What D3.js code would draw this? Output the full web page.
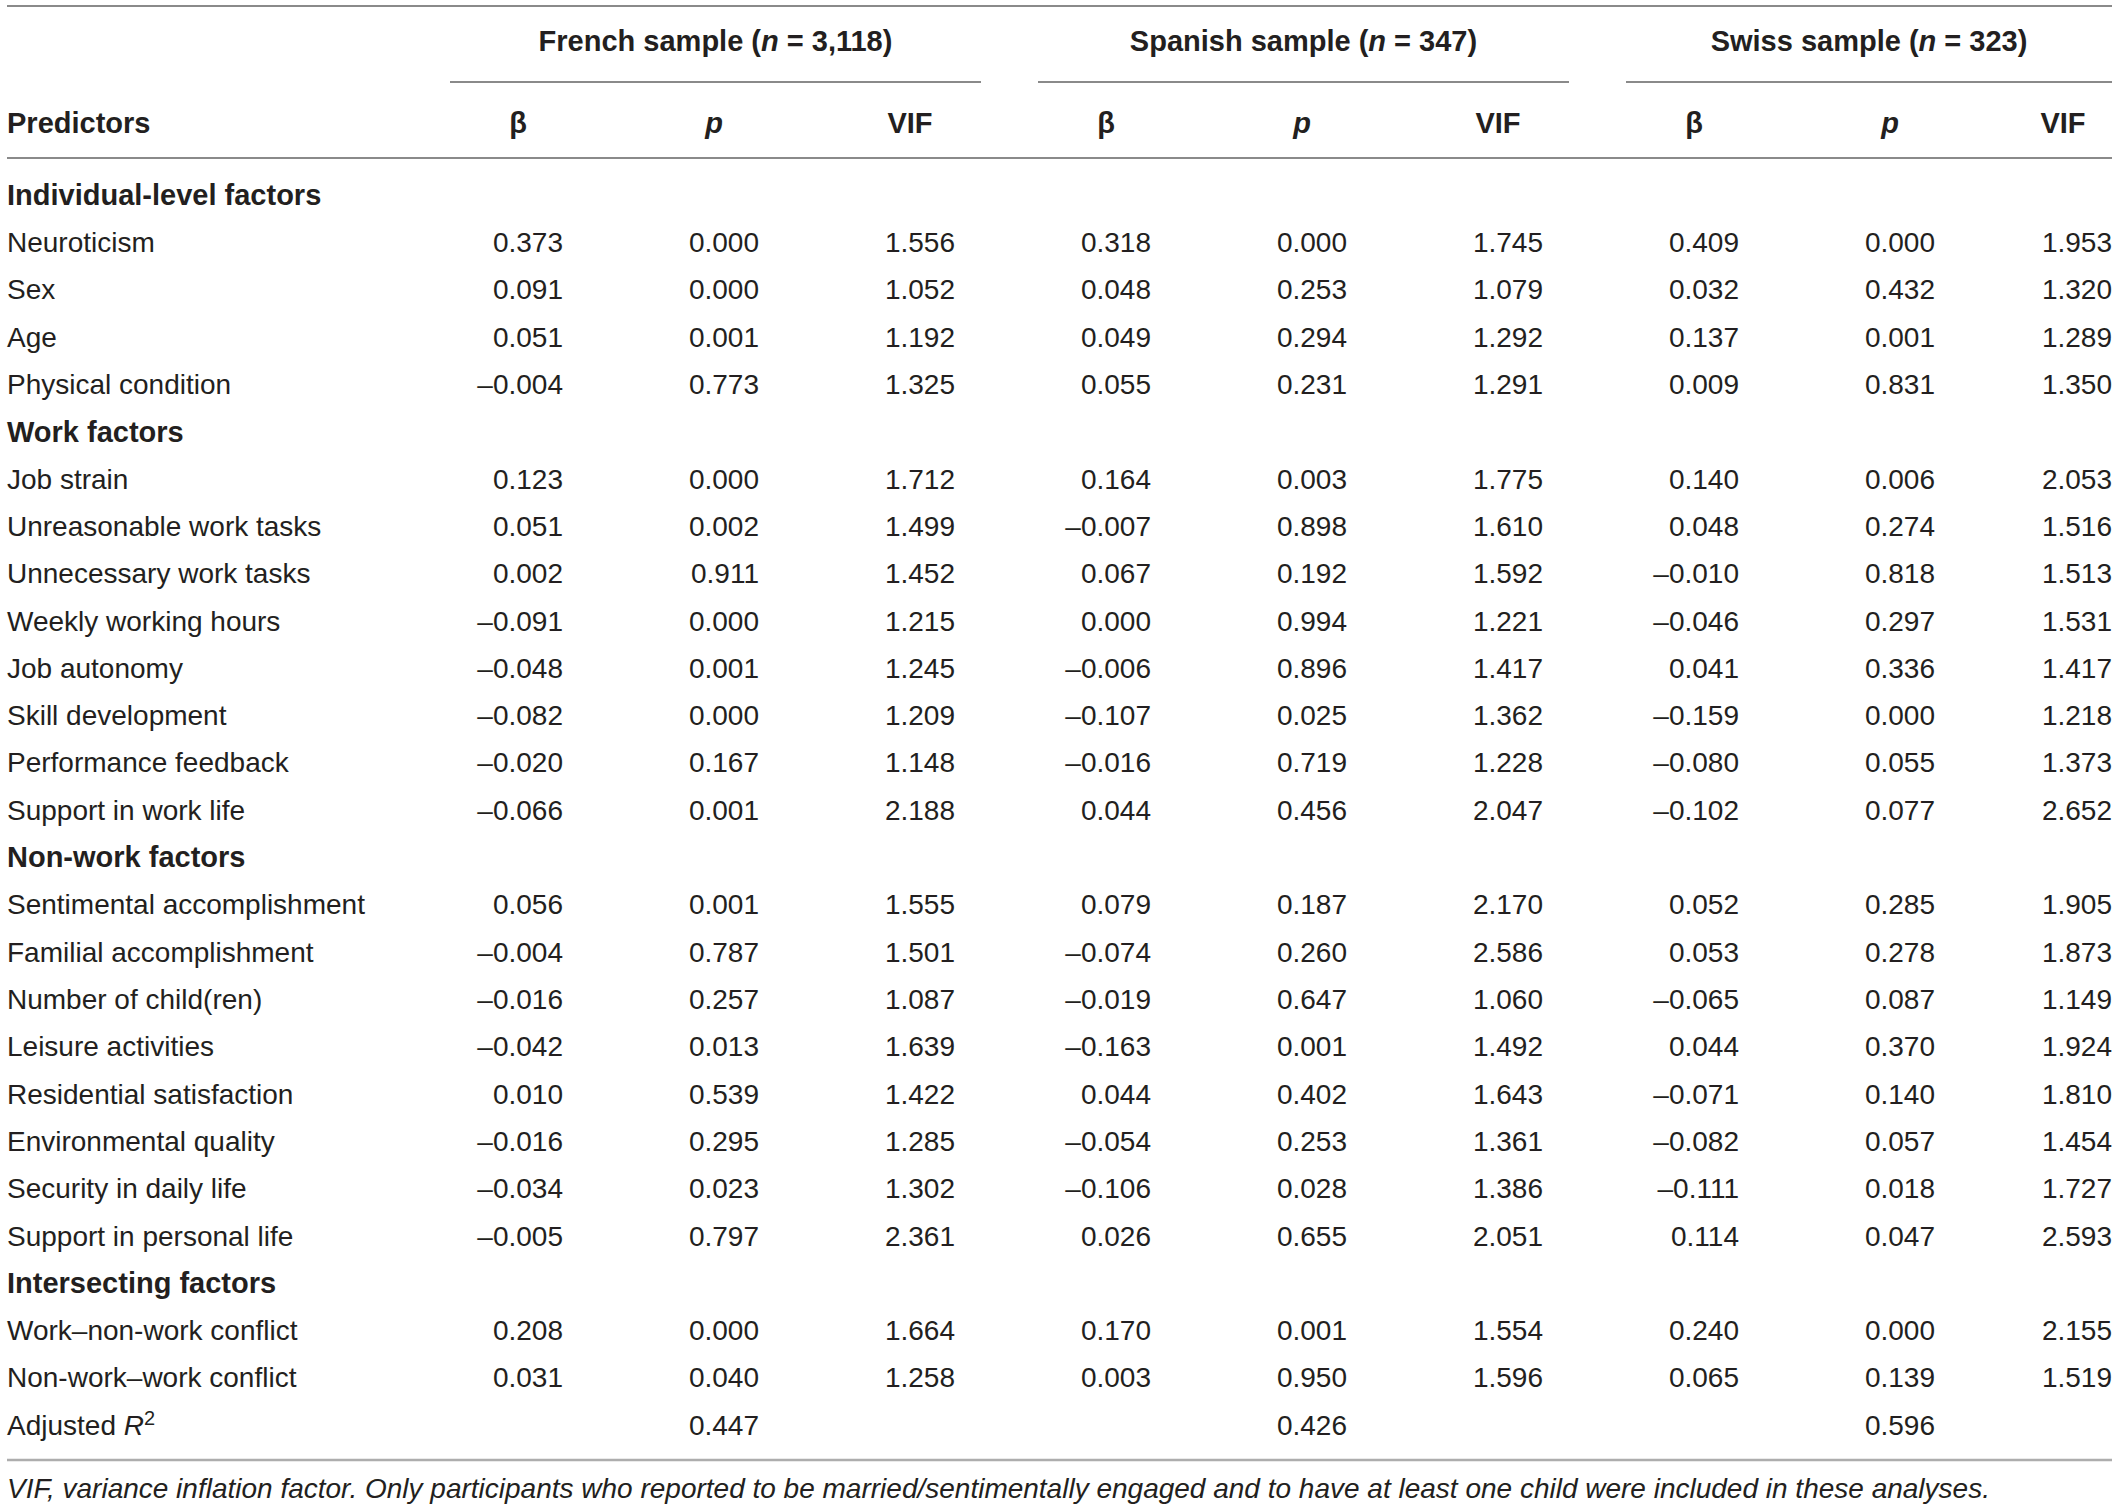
<!DOCTYPE html>
<html>
<head>
<meta charset="utf-8">
<script src="https://cdn.jsdelivr.net/npm/d3@7"></script>
<style>
  html, body { margin: 0; padding: 0; background: #fff; }
  svg text { font-family: "Liberation Sans", Arial, Helvetica, sans-serif; fill: #231f20; }
</style>
</head>
<body>
<div id="chart"></div>
<script>
// rows of the table: label and kind (section header / predictor / fit)
const predictors = [
  "Individual-level factors", "Neuroticism", "Sex", "Age", "Physical condition",
  "Work factors", "Job strain", "Unreasonable work tasks", "Unnecessary work tasks",
  "Weekly working hours", "Job autonomy", "Skill development", "Performance feedback",
  "Support in work life",
  "Non-work factors", "Sentimental accomplishment", "Familial accomplishment",
  "Number of child(ren)", "Leisure activities", "Residential satisfaction",
  "Environmental quality", "Security in daily life", "Support in personal life",
  "Intersecting factors", "Work\u2013non-work conflict", "Non-work\u2013work conflict"
];
const sections = ["Individual-level factors", "Work factors", "Non-work factors", "Intersecting factors"];

const samples = ["French", "Spanish", "Swiss"];
const sampleSizes = ["3,118", "347", "323"];
const statLabels = ["\u03b2", "p", "VIF"];

// values per sample, in order of the predictor rows (section rows skipped)
const frenchBeta = [0.373, 0.091, 0.051, -0.004, 0.123, 0.051, 0.002, -0.091, -0.048, -0.082, -0.020, -0.066,
  0.056, -0.004, -0.016, -0.042, 0.010, -0.016, -0.034, -0.005, 0.208, 0.031];
const frenchP = [0.000, 0.000, 0.001, 0.773, 0.000, 0.002, 0.911, 0.000, 0.001, 0.000, 0.167, 0.001,
  0.001, 0.787, 0.257, 0.013, 0.539, 0.295, 0.023, 0.797, 0.000, 0.040];
const frenchVif = [1.556, 1.052, 1.192, 1.325, 1.712, 1.499, 1.452, 1.215, 1.245, 1.209, 1.148, 2.188,
  1.555, 1.501, 1.087, 1.639, 1.422, 1.285, 1.302, 2.361, 1.664, 1.258];

const spanishBeta = [0.318, 0.048, 0.049, 0.055, 0.164, -0.007, 0.067, 0.000, -0.006, -0.107, -0.016, 0.044,
  0.079, -0.074, -0.019, -0.163, 0.044, -0.054, -0.106, 0.026, 0.170, 0.003];
const spanishP = [0.000, 0.253, 0.294, 0.231, 0.003, 0.898, 0.192, 0.994, 0.896, 0.025, 0.719, 0.456,
  0.187, 0.260, 0.647, 0.001, 0.402, 0.253, 0.028, 0.655, 0.001, 0.950];
const spanishVif = [1.745, 1.079, 1.292, 1.291, 1.775, 1.610, 1.592, 1.221, 1.417, 1.362, 1.228, 2.047,
  2.170, 2.586, 1.060, 1.492, 1.643, 1.361, 1.386, 2.051, 1.554, 1.596];

const swissBeta = [0.409, 0.032, 0.137, 0.009, 0.140, 0.048, -0.010, -0.046, 0.041, -0.159, -0.080, -0.102,
  0.052, 0.053, -0.065, 0.044, -0.071, -0.082, -0.111, 0.114, 0.240, 0.065];
const swissP = [0.000, 0.432, 0.001, 0.831, 0.006, 0.274, 0.818, 0.297, 0.336, 0.000, 0.055, 0.077,
  0.285, 0.278, 0.087, 0.370, 0.140, 0.057, 0.018, 0.047, 0.000, 0.139];
const swissVif = [1.953, 1.320, 1.289, 1.350, 2.053, 1.516, 1.513, 1.531, 1.417, 1.218, 1.373, 2.652,
  1.905, 1.873, 1.149, 1.924, 1.810, 1.454, 1.727, 2.593, 2.155, 1.519];

const adjustedR2 = [0.447, 0.426, 0.596];

const footnote = "VIF, variance inflation factor. Only participants who reported to be married/sentimentally engaged and to have at least one child were included in these analyses.";

// ---------- layout ----------
const width = 2118, height = 1508;
const left = 7, right = 2112;
const columns = [frenchBeta, frenchP, frenchVif, spanishBeta, spanishP, spanishVif, swissBeta, swissP, swissVif];

const svg = d3.select("#chart").append("svg")
  .attr("width", width)
  .attr("height", height);

// right edge of each numeric column
const colX = d3.scaleLinear().domain([0, 8]).range([563, 2131]);
const colRight = i => Math.min(colX(i), 2112);
const colHead = i => i === 8 ? 2063 : colX(i) - 45;

// rows: predictors + the adjusted R2 line
const rowLabels = predictors.concat(["Adjusted R2"]);
const y = d3.scalePoint().domain(d3.range(rowLabels.length)).range([195, 1425]);

const fmt = v => d3.format(".3f")(v).replace("\u2212", "\u2013").replace("-", "\u2013");

// rules
function rule(x1, x2, yy, color, w) {
  svg.append("line")
    .attr("x1", x1).attr("x2", x2).attr("y1", yy).attr("y2", yy)
    .attr("stroke", color).attr("stroke-width", w);
}
rule(left, right, 6, "#8a8a8a", 2);
rule(left, right, 158, "#8a8a8a", 2);
rule(left, right, 1460, "#adadad", 2.5);

// sample group headers with underlines
samples.forEach((s, g) => {
  const x1 = colRight(g * 3) - 113;
  const x2 = g === 2 ? right : colRight(g * 3 + 2) + 26;
  rule(x1, x2, 82, "#8a8a8a", 2);
  const t = svg.append("text")
    .attr("x", (x1 + x2) / 2).attr("y", 41)
    .attr("dy", "0.35em")
    .attr("text-anchor", "middle")
    .style("font-size", "29px").style("font-weight", "bold");
  t.append("tspan").text(s + " sample (");
  t.append("tspan").style("font-style", "italic").text("n");
  t.append("tspan").text(" = " + sampleSizes[g] + ")");
});

// column headers
svg.append("text")
  .attr("x", left).attr("y", 123).attr("dy", "0.35em")
  .style("font-size", "29px").style("font-weight", "bold")
  .text("Predictors");

d3.range(9).forEach(i => {
  const lab = statLabels[i % 3];
  svg.append("text")
    .attr("x", colHead(i)).attr("y", 123).attr("dy", "0.35em")
    .attr("text-anchor", "middle")
    .style("font-size", "29px").style("font-weight", "bold")
    .style("font-style", lab === "p" ? "italic" : "normal")
    .text(lab);
});

// row labels
rowLabels.forEach((lab, r) => {
  const isSection = sections.includes(lab);
  const t = svg.append("text")
    .attr("x", left).attr("y", y(r)).attr("dy", "0.35em")
    .style("font-size", isSection ? "29px" : "28px")
    .style("font-weight", isSection ? "bold" : "normal");
  if (lab === "Adjusted R2") {
    t.append("tspan").text("Adjusted ");
    t.append("tspan").style("font-style", "italic").text("R");
    t.append("tspan").attr("dy", "-0.5em").style("font-size", "20px").text("2");
  } else {
    t.text(lab);
  }
});

// values: map each value index to its row (skip section rows)
const valueRows = d3.range(predictors.length).filter(r => !sections.includes(predictors[r]));

columns.forEach((vals, c) => {
  svg.append("g")
    .selectAll("text")
    .data(vals)
    .join("text")
    .attr("x", colRight(c))
    .attr("y", (d, i) => y(valueRows[i]))
    .attr("dy", "0.35em")
    .attr("text-anchor", "end")
    .style("font-size", "28px")
    .text(d => fmt(d));
});

// adjusted R2 under the p column of each sample
svg.append("g")
  .selectAll("text")
  .data(adjustedR2)
  .join("text")
  .attr("x", (d, g) => colRight(g * 3 + 1))
  .attr("y", y(rowLabels.length - 1))
  .attr("dy", "0.35em")
  .attr("text-anchor", "end")
  .style("font-size", "28px")
  .text(d => fmt(d));

// footnote
svg.append("text")
  .attr("x", left).attr("y", 1488).attr("dy", "0.35em")
  .style("font-size", "28px").style("font-style", "italic")
  .text(footnote);
</script>
</body>
</html>
